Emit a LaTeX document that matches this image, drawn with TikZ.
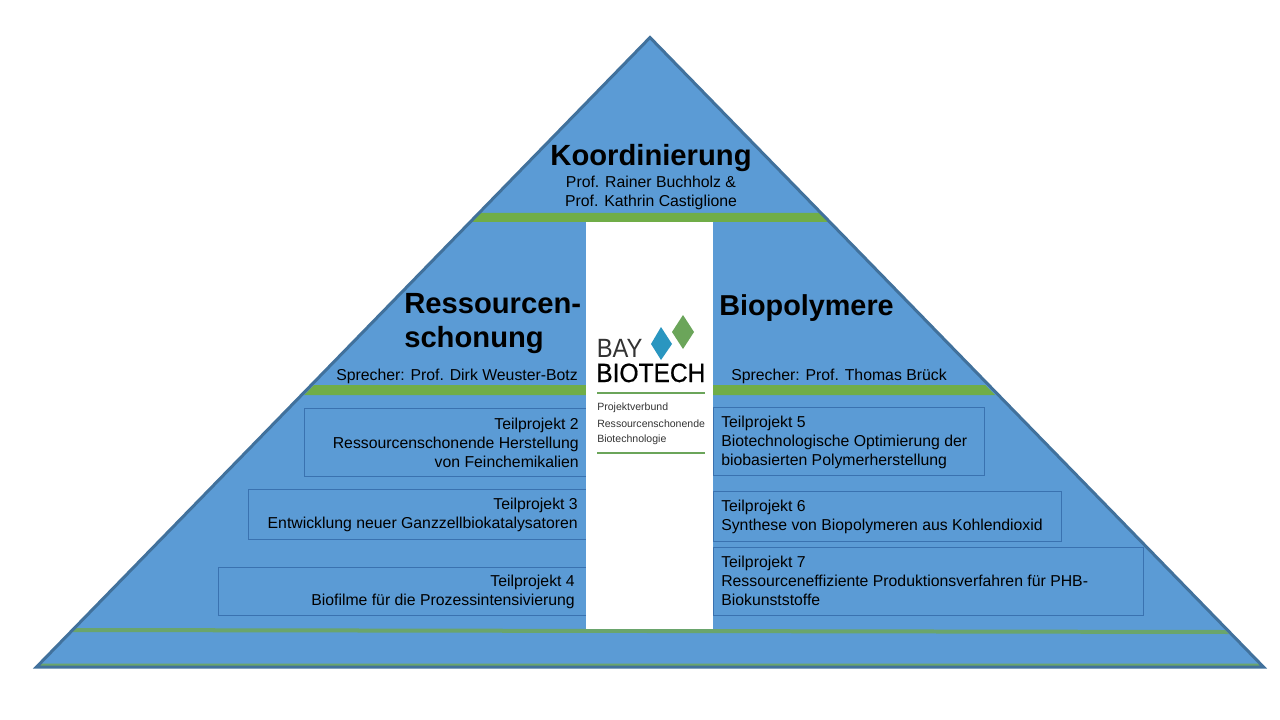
\documentclass[tikz,border=0pt]{standalone}
\usepackage{fontspec}
\setmainfont{Liberation Sans}
\newfontfamily\logofont[RawFeature={embolden=0.7}]{Liberation Sans}
\definecolor{pyrblue}{HTML}{5B9BD5}
\definecolor{pyredge}{HTML}{41719C}
\definecolor{boxedge}{HTML}{3A72B0}
\definecolor{bargreen}{HTML}{70AD47}
\definecolor{thingreen}{HTML}{6AA56C}
\definecolor{logoblue}{HTML}{2A96C0}
\definecolor{logogreen}{HTML}{6BA55A}
\definecolor{logotext}{HTML}{333333}
\tikzset{
  x=0.75pt,y=-0.75pt,
  head/.style={font=\fontsize{21.9}{25}\selectfont\bfseries,text=black,inner sep=0pt,align=left},
  body/.style={font=\fontsize{11.85}{14.25}\selectfont,text=black,inner sep=0pt},
  tp/.style={draw=boxedge,line width=0.7pt},
  lefttext/.style={body,anchor=east,align=right},
  righttext/.style={body,anchor=west,align=left},
  greenbar/.style={fill=bargreen,draw=none},
  logosmall/.style={font=\fontsize{7.9}{13}\selectfont,text=logotext,inner sep=0pt,anchor=west},
  logobig/.style={font=\logofont\fontsize{19.8}{22}\selectfont,inner sep=0pt,anchor=base west,text=black},
  logolight/.style={font=\fontsize{19.8}{22}\selectfont,inner sep=0pt,anchor=base west,text=logotext},
}
\begin{document}
\begin{tikzpicture}
\useasboundingbox (0,0) rectangle (1280,720);
% pyramid
\path[fill=pyrblue] (650,37.5) -- (1263.5,667) -- (36.5,667) -- cycle;
% bars
\path[greenbar] (481,213) -- (819,213) -- (829,222) -- (470,222) -- cycle;
\path[greenbar] (314,385) -- (985,385) -- (995,395) -- (304,395) -- cycle;
\path[fill=thingreen] (75,628) -- (1225,630) -- (1229,634) -- (72,632) -- cycle;
\path[fill=thingreen] (40,663.5) -- (1260,663.5) -- (1262,666) -- (38,666) -- cycle;
\draw[pyredge,line width=2.25pt,line join=miter] (650,37.5) -- (1263.5,667) -- (36.5,667) -- cycle;
% project boxes
\node[tp,minimum width=282*0.75pt,minimum height=68*0.75pt,inner sep=0pt,anchor=north west] (box2) at (304,408) {};
\node[tp,minimum width=338*0.75pt,minimum height=50*0.75pt,inner sep=0pt,anchor=north west] (box3) at (248,489) {};
\node[tp,minimum width=368*0.75pt,minimum height=48*0.75pt,inner sep=0pt,anchor=north west] (box4) at (218,567) {};
\node[tp,minimum width=270.5*0.75pt,minimum height=68*0.75pt,inner sep=0pt,anchor=north west] (box5) at (713,407) {};
\node[tp,minimum width=347.5*0.75pt,minimum height=50*0.75pt,inner sep=0pt,anchor=north west] (box6) at (713,491) {};
\node[tp,minimum width=429.5*0.75pt,minimum height=68*0.75pt,inner sep=0pt,anchor=north west] (box7) at (713,547) {};
% logo column
\node[fill=white,draw=none,minimum width=127*0.75pt,minimum height=407*0.75pt,inner sep=0pt,anchor=north west] (column) at (586,222) {};
\path[fill=logogreen] (683,315) -- (694,332) -- (683,349) -- (672,332) -- cycle;
\path[fill=logoblue] (661,327) -- (672,344) -- (661,360) -- (651,344) -- cycle;
\node[logolight] (bay) at (596.5,357) {\scalebox{0.9}[1]{BAY}};
\node[logobig] (biotech) at (596,382) {\scalebox{0.93}[1]{BIOTECH}};
\draw[logogreen,line width=1pt] (597,393) -- (705,393);
\node[logosmall] (lg1) at (597,408) {Projektverbund};
\node[logosmall] (lg2) at (597,424) {Ressourcenschonende};
\node[logosmall] (lg3) at (597,440) {Biotechnologie};
\draw[logogreen,line width=1pt] (597,453) -- (705,453);
% headings
\node[head,anchor=center] (koord) at (651,158) {Koordinierung};
\node[body,align=center] (koordsub) at (651,193) {Prof. Rainer Buchholz \&\\Prof. Kathrin Castiglione};
\node[head,anchor=north west,font=\fontsize{21.9}{25.5}\selectfont\bfseries] (ress) at (404,293) {Ressourcen-\\schonung};
\node[head,anchor=west,font=\fontsize{21.6}{25}\selectfont\bfseries] (bio) at (719,308) {Biopolymere};
\node[lefttext] (spl) at (578,376) {Sprecher: Prof. Dirk Weuster-Botz};
\node[righttext] (spr) at (731,376) {Sprecher: Prof. Thomas Brück};
% project texts
\node[lefttext] (t2) at (579,443) {Teilprojekt 2\\Ressourcenschonende Herstellung\\von Feinchemikalien};
\node[lefttext] (t3) at (578,515) {Teilprojekt 3\\Entwicklung neuer Ganzzellbiokatalysatoren};
\node[lefttext] (t4) at (575,592) {Teilprojekt 4\\Biofilme für die Prozessintensivierung};
\node[righttext] (t5) at (721,442) {Teilprojekt 5\\Biotechnologische Optimierung der\\biobasierten Polymerherstellung};
\node[righttext] (t6) at (721,517) {Teilprojekt 6\\Synthese von Biopolymeren aus Kohlendioxid};
\node[righttext] (t7) at (721,581) {Teilprojekt 7\\Ressourceneffiziente Produktionsverfahren für PHB-\\Biokunststoffe};
\end{tikzpicture}
\end{document}
